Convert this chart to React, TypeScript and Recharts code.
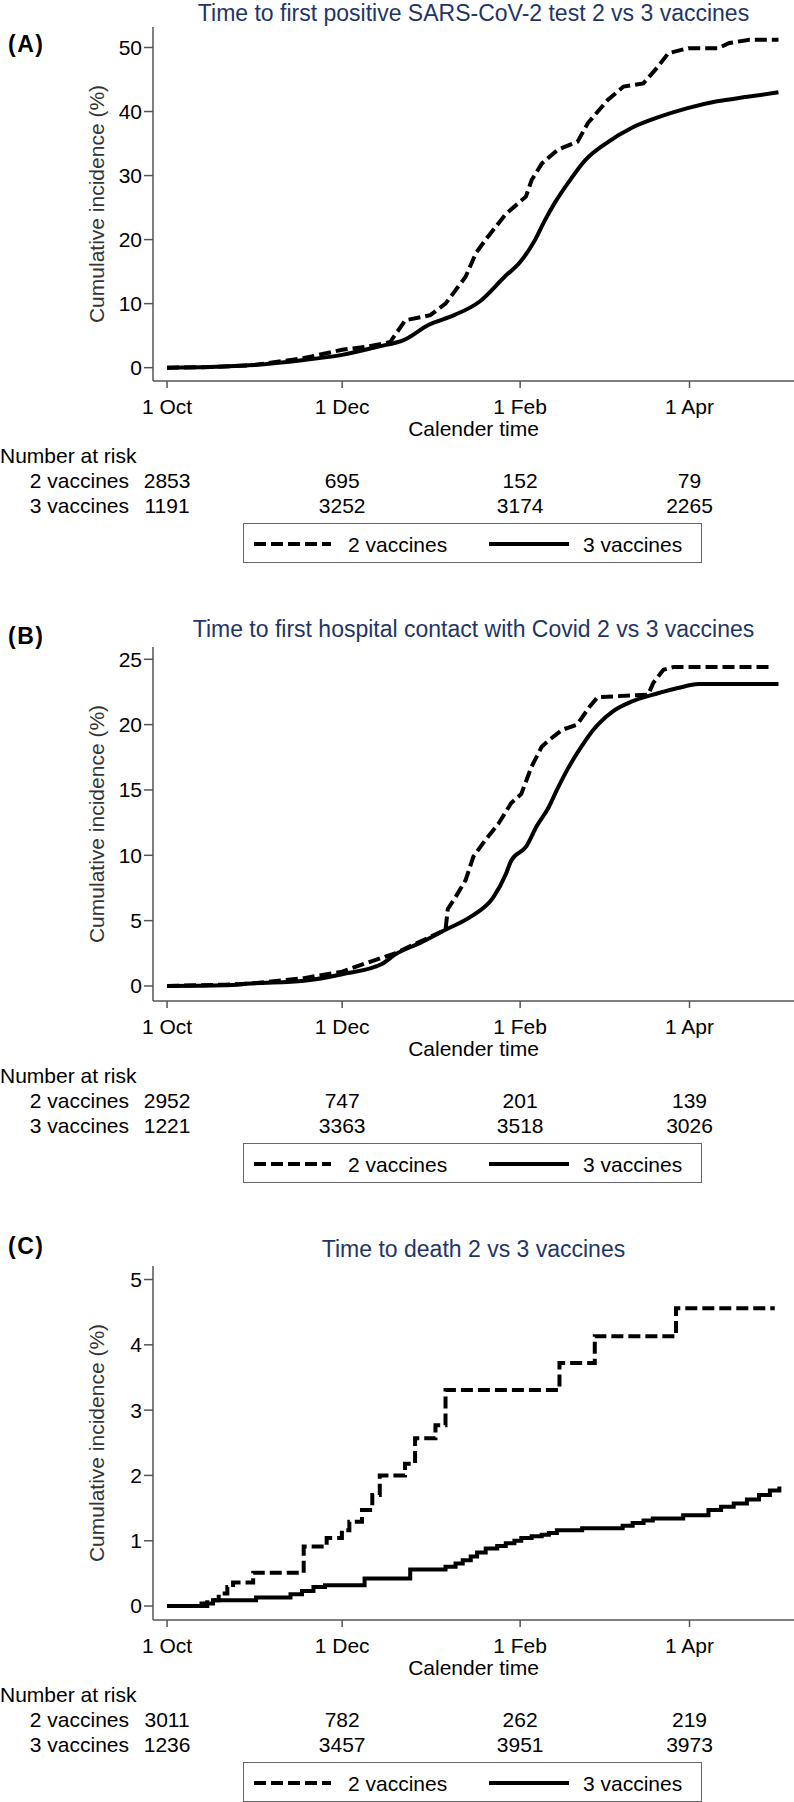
import React from "react";
import { LineChart, Line, XAxis, YAxis, Legend } from "recharts";

const FONT = '"Liberation Sans", Arial, Helvetica, sans-serif';
const TITLE_COLOR = "#1f3566";
const AXIS_COLOR = "#555";

// days since 1 Oct
const timeTicks = [0, 61, 123, 182];
const timeLabels = ["1 Oct", "1 Dec", "1 Feb", "1 Apr"];
const timeDomain: [number, number] = [-4.9, 218.4];

// (A) first positive test
const aDays2 = [0, 15, 30, 47.7, 61, 70, 77.7, 83, 91.7, 97, 104, 107.6, 111, 118, 125, 127, 130.6, 136, 143, 146.6, 153.5, 159, 165.9, 171, 174.6, 181.6, 192, 195.9, 202.9, 213];
const aInc2 = [0, 0.1, 0.4, 1.5, 2.8, 3.3, 4, 7.4, 8.2, 10, 14.2, 17.9, 20, 24, 26.7, 29.3, 31.9, 34, 35.3, 38.2, 41.8, 43.9, 44.4, 47, 49.1, 49.9, 49.9, 50.7, 51.2, 51.2];
const aDays3 = [0, 15, 30, 47.7, 61, 73.6, 82.4, 91.2, 100, 108.8, 117.6, 123, 128, 131.6, 135, 140.4, 145.7, 152.8, 161.6, 170.4, 181, 191.6, 202.2, 213];
const aInc3 = [0, 0.1, 0.4, 1.2, 2.0, 3.3, 4.3, 6.7, 8.2, 10.3, 14.2, 16.5, 19.8, 23, 25.7, 29.3, 32.4, 35, 37.4, 39, 40.5, 41.6, 42.3, 43];
const aRisk2 = [2853, 695, 152, 79];
const aRisk3 = [1191, 3252, 3174, 2265];
const aTicks = [0, 10, 20, 30, 40, 50];

// (B) first hospital contact
const bDays2 = [0, 20, 30, 47.7, 61, 68.8, 79.4, 88.2, 97, 97.8, 100.5, 104, 106.7, 111, 115.4, 119.9, 123.4, 127, 130.5, 133, 137.6, 142.8, 147.3, 150, 167.6, 169.4, 172.9, 176.4, 210.8];
const bInc2 = [0, 0.1, 0.2, 0.6, 1.1, 1.7, 2.5, 3.4, 4.3, 5.9, 6.8, 8.1, 9.9, 11.2, 12.4, 14, 14.7, 16.8, 18.3, 18.8, 19.6, 20, 21.4, 22.1, 22.3, 23.2, 24.2, 24.4, 24.4];
const bDays3 = [0, 20, 30, 47.7, 61, 75, 79.4, 88.2, 97, 105.8, 113.7, 118.1, 119.9, 125.2, 128.7, 133, 135.8, 139.3, 143.7, 148.1, 155.2, 162.2, 171, 178, 185.1, 213];
const bInc3 = [0, 0.05, 0.2, 0.4, 0.9, 1.7, 2.4, 3.3, 4.3, 5.3, 6.8, 8.6, 9.6, 10.7, 12.2, 13.7, 15, 16.5, 18.1, 19.5, 21, 21.8, 22.4, 22.8, 23.1, 23.1];
const bRisk2 = [2952, 747, 201, 139];
const bRisk3 = [1221, 3363, 3518, 3026];
const bTicks = [0, 5, 10, 15, 20, 25];

// (C) death
const cDays2 = [0, 14, 18, 21, 23, 30, 47.6, 55.6, 60.9, 63.5, 67.9, 71.5, 74.1, 82.9, 86.4, 93.5, 97, 136.7, 149, 177.3, 211.7];
const cInc2 = [0, 0.09, 0.19, 0.29, 0.36, 0.51, 0.91, 1.04, 1.16, 1.29, 1.47, 1.7, 2.0, 2.18, 2.57, 2.77, 3.31, 3.72, 4.13, 4.56, 4.56];
const cDays3 = [0, 12, 16, 31, 43, 47, 51, 55, 68.8, 84.7, 97, 100.5, 103, 105.8, 108, 111, 115, 118, 121, 123.4, 127, 130.5, 133, 135.8, 144.6, 158.7, 162.2, 166, 169.2, 179.8, 188.6, 193, 197.4, 202, 206.2, 210, 213.3];
const cInc3 = [0, 0.04, 0.09, 0.13, 0.18, 0.23, 0.29, 0.32, 0.42, 0.56, 0.6, 0.65, 0.7, 0.76, 0.82, 0.88, 0.92, 0.96, 1.0, 1.04, 1.07, 1.09, 1.12, 1.16, 1.19, 1.23, 1.27, 1.31, 1.34, 1.39, 1.47, 1.52, 1.57, 1.63, 1.7, 1.77, 1.83];
const cRisk2 = [3011, 782, 262, 219];
const cRisk3 = [1236, 3457, 3951, 3973];
const cTicks = [0, 1, 2, 3, 4, 5];

const toSeries = (days: number[], inc: number[]) => days.map((d, i) => ({ d, v: inc[i] }));

function RiskTick(props: any) {
  const { x, y, payload, values, dy } = props;
  const i = timeTicks.indexOf(payload?.value);
  return (
    <text x={x} y={y} dy={dy} textAnchor="middle" fontSize={21} fill="#000">
      {values[i]}
    </text>
  );
}

function YLabel(props: any) {
  const vb = props.viewBox || { x: 0, y: 0, width: 0, height: 0 };
  const cx = 96;
  const cy = vb.y + vb.height / 2;
  return (
    <text x={cx} y={cy} dy="0.36em" transform={`rotate(-90 ${cx} ${cy})`} textAnchor="middle" fontSize={21} fill="#333">
      Cumulative incidence (%)
    </text>
  );
}

function RowLabel(props: any) {
  const vb = props.viewBox || { x: 0, y: 0 };
  return (
    <g>
      {props.header && (
        <text x={0} y={vb.y + 22} fontSize={21} fill="#000">
          Number at risk
        </text>
      )}
      <text x={129} y={vb.y + props.dy} textAnchor="end" fontSize={21} fill="#000">
        {props.text}
      </text>
    </g>
  );
}

const legendLeft = [10, 245];
const legendSwatch = [77, 80];
const legendGap = [17, 14];

function LegendBox(props: any) {
  const items = props.payload ?? [];
  return (
    <div
      style={{
        position: "relative",
        width: 459,
        height: 40,
        boxSizing: "border-box",
        border: "1px solid #666",
        background: "#fff",
        fontFamily: FONT,
        fontSize: 21,
        color: "#000",
      }}
    >
      {items.map((it: any, i: number) => (
        <div
          key={it.value}
          style={{ position: "absolute", left: legendLeft[i], top: 0, height: 40, display: "flex", alignItems: "center" }}
        >
          <svg width={legendSwatch[i]} height={6}>
            <line x1={0} y1={3} x2={legendSwatch[i]} y2={3} stroke="#000" strokeWidth={4} strokeDasharray={it.payload?.strokeDasharray} />
          </svg>
          <span style={{ marginLeft: legendGap[i], lineHeight: "21px" }}>{it.value}</span>
        </div>
      ))}
    </div>
  );
}

type PanelProps = {
  top: number;
  tag: string;
  tagTop: number;
  title: string;
  titleTop: number;
  yDomain: [number, number];
  yTicks: number[];
  two: { d: number; v: number }[];
  three: { d: number; v: number }[];
  twoType: "linear" | "stepAfter" | "monotone";
  threeType: "linear" | "stepAfter" | "monotone";
  risk2: number[];
  risk3: number[];
};

function Panel(p: PanelProps) {
  return (
    <div style={{ position: "absolute", left: 0, top: p.top, width: 794, height: 620 }}>
      <div style={{ position: "absolute", left: 8, top: p.tagTop, fontSize: 23, lineHeight: "23px", fontWeight: "bold", letterSpacing: 1.5 }}>
        {p.tag}
      </div>
      <div
        style={{
          position: "absolute",
          left: 153,
          width: 641,
          top: p.titleTop,
          textAlign: "center",
          fontSize: 23,
          lineHeight: "26px",
          color: TITLE_COLOR,
          whiteSpace: "nowrap",
        }}
      >
        {p.title}
      </div>
      <LineChart width={794} height={565} margin={{ top: 27, right: 0, bottom: 50, left: 0 }}>
        <YAxis
          type="number"
          domain={p.yDomain}
          ticks={p.yTicks}
          allowDataOverflow
          width={153}
          tickSize={9}
          tickMargin={2}
          interval={0}
          tick={{ fontSize: 21, fill: "#000" }}
          axisLine={{ stroke: AXIS_COLOR, strokeWidth: 1.5 }}
          tickLine={{ stroke: AXIS_COLOR, strokeWidth: 1.5 }}
          label={<YLabel />}
        />
        <XAxis
          xAxisId="a"
          type="number"
          dataKey="d"
          domain={timeDomain}
          ticks={timeTicks}
          allowDataOverflow
          interval={0}
          height={60}
          tickSize={7}
          tickMargin={11}
          tickFormatter={(v: number) => timeLabels[timeTicks.indexOf(v)]}
          tick={{ fontSize: 21, fill: "#000" }}
          axisLine={{ stroke: AXIS_COLOR, strokeWidth: 1.5 }}
          tickLine={{ stroke: AXIS_COLOR, strokeWidth: 1.5 }}
          label={{ value: "Calender time", position: "insideBottom", offset: 5, fontSize: 21, fill: "#000" }}
        />
        <XAxis
          xAxisId="b"
          type="number"
          dataKey="d"
          domain={timeDomain}
          ticks={timeTicks}
          allowDataOverflow
          interval={0}
          height={49}
          tickSize={0}
          tickMargin={0}
          axisLine={false}
          tickLine={false}
          tick={<RiskTick values={p.risk2} dy={46.5} />}
          label={<RowLabel header text="2 vaccines" dy={46.5} />}
        />
        <XAxis
          xAxisId="c"
          type="number"
          dataKey="d"
          domain={timeDomain}
          ticks={timeTicks}
          allowDataOverflow
          interval={0}
          height={25}
          tickSize={0}
          tickMargin={0}
          axisLine={false}
          tickLine={false}
          tick={<RiskTick values={p.risk3} dy={22.5} />}
          label={<RowLabel text="3 vaccines" dy={22.5} />}
        />
        <Legend
          layout="horizontal"
          verticalAlign="middle"
          align="center"
          wrapperStyle={{ left: 243, top: 523, width: 459, height: 40 }}
          content={<LegendBox />}
        />
        <Line
          xAxisId="a"
          data={p.two}
          dataKey="v"
          name="2 vaccines"
          type={p.twoType}
          stroke="#000"
          strokeWidth={4}
          strokeDasharray="12 5"
          dot={false}
          activeDot={false}
          isAnimationActive={false}
        />
        <Line
          xAxisId="a"
          data={p.three}
          dataKey="v"
          name="3 vaccines"
          type={p.threeType}
          stroke="#000"
          strokeWidth={4}
          dot={false}
          activeDot={false}
          isAnimationActive={false}
        />
      </LineChart>
    </div>
  );
}

export default function App() {
  return (
    <div style={{ position: "relative", width: 794, height: 1802, background: "#fff", fontFamily: FONT, color: "#000", overflow: "hidden" }}>
      <style>{"body{margin:0}"}</style>
      <Panel
        top={0}
        tag="(A)"
        tagTop={33}
        title="Time to first positive SARS-CoV-2 test 2 vs 3 vaccines"
        titleTop={0}
        yDomain={[-2.08, 53.2]}
        yTicks={aTicks}
        two={toSeries(aDays2, aInc2)}
        three={toSeries(aDays3, aInc3)}
        twoType="linear"
        threeType="monotone"
        risk2={aRisk2}
        risk3={aRisk3}
      />
      <Panel
        top={620}
        tag="(B)"
        tagTop={5}
        title="Time to first hospital contact with Covid 2 vs 3 vaccines"
        titleTop={-4.5}
        yDomain={[-1.15, 25.94]}
        yTicks={bTicks}
        two={toSeries(bDays2, bInc2)}
        three={toSeries(bDays3, bInc3)}
        twoType="linear"
        threeType="monotone"
        risk2={bRisk2}
        risk3={bRisk3}
      />
      <Panel
        top={1239}
        tag="(C)"
        tagTop={-4}
        title="Time to death 2 vs 3 vaccines"
        titleTop={-3.5}
        yDomain={[-0.214, 5.207]}
        yTicks={cTicks}
        two={toSeries(cDays2, cInc2)}
        three={toSeries(cDays3, cInc3)}
        twoType="stepAfter"
        threeType="stepAfter"
        risk2={cRisk2}
        risk3={cRisk3}
      />
    </div>
  );
}
